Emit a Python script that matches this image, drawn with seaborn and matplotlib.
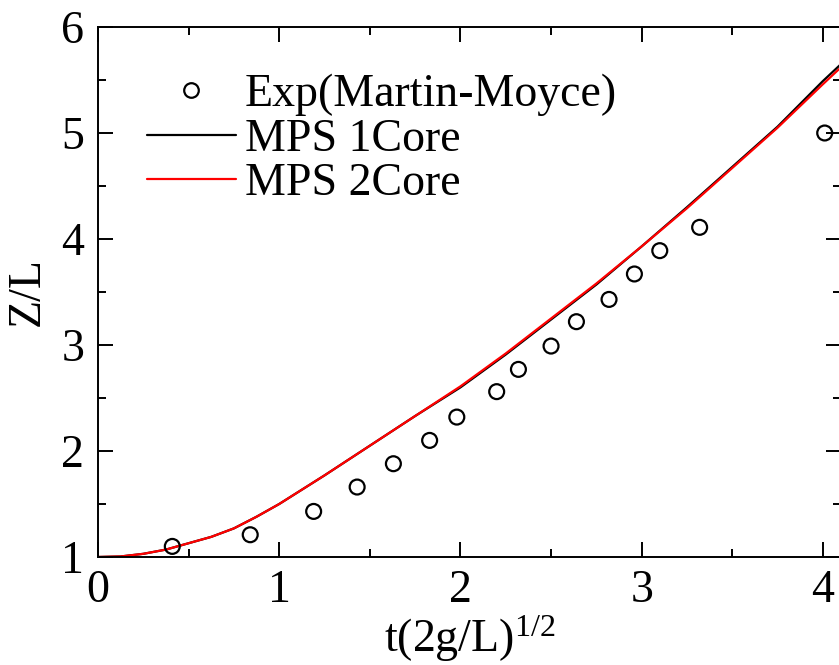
import numpy as np
import pandas as pd
import matplotlib
matplotlib.use("Agg")
import matplotlib.pyplot as plt
import seaborn as sns
from matplotlib.lines import Line2D
from matplotlib.ticker import MultipleLocator

sns.set_theme(style="ticks")
plt.rcParams['font.family'] = ['Liberation Serif', 'DejaVu Serif']
plt.rcParams['mathtext.fontset'] = 'custom'
plt.rcParams['mathtext.rm'] = 'Liberation Serif'
plt.rcParams['mathtext.it'] = 'Liberation Serif:italic'
for k in ['text.color', 'axes.labelcolor', 'xtick.color', 'ytick.color', 'axes.edgecolor']:
    plt.rcParams[k] = 'black'

# Experimental data (Martin-Moyce)
exp_t = [0.41, 0.84, 1.19, 1.43, 1.63, 1.83, 1.98, 2.20, 2.32, 2.50, 2.64, 2.82, 2.96, 3.10, 3.32, 4.01]
exp_z = [1.10, 1.21, 1.43, 1.66, 1.88, 2.10, 2.32, 2.56, 2.77, 2.99, 3.22, 3.43, 3.67, 3.89, 4.11, 5.00]

# MPS 1 core
mps1_t = [0.0, 0.125, 0.25, 0.375, 0.5, 0.625, 0.75, 0.875, 1.0, 1.25, 1.5, 1.75, 2.0, 2.25, 2.5,
          2.75, 3.0, 3.25, 3.5, 3.75, 4.0, 4.1]
mps1_z = [1.00, 1.005, 1.03, 1.07, 1.13, 1.19, 1.27, 1.38, 1.50, 1.77, 2.05, 2.33, 2.60, 2.91, 3.24,
          3.57, 3.93, 4.30, 4.68, 5.06, 5.49, 5.65]

# MPS 2 core
mps2_t = [0.0, 0.125, 0.25, 0.375, 0.5, 0.625, 0.75, 0.875, 1.0, 1.25, 1.5, 1.75, 2.0, 2.25, 2.5,
          2.75, 3.0, 3.25, 3.5, 3.75, 4.0, 4.1]
mps2_z = [1.00, 1.005, 1.03, 1.07, 1.13, 1.19, 1.27, 1.38, 1.50, 1.77, 2.05, 2.33, 2.61, 2.92, 3.25,
          3.58, 3.93, 4.29, 4.67, 5.05, 5.46, 5.62]

fig = plt.figure(figsize=(8.39, 6.65), dpi=100)
ax = fig.add_axes([98/839, (665-557)/665, 743/839, 530/665])

df1 = pd.DataFrame({"t": mps1_t, "z": mps1_z})
df2 = pd.DataFrame({"t": mps2_t, "z": mps2_z})
dfe = pd.DataFrame({"t": exp_t, "z": exp_z})

sns.lineplot(data=df1, x="t", y="z", ax=ax, color="black", linewidth=1.6)
sns.lineplot(data=df2, x="t", y="z", ax=ax, color="red", linewidth=1.6)
sns.scatterplot(data=dfe, x="t", y="z", ax=ax, marker="o", s=115, facecolors="none",
                edgecolor="black", linewidth=1.6, zorder=5, clip_on=False)

FS = 33
ax.set_xlim(0, 4.1)
ax.set_ylim(1, 6)
ax.xaxis.set_major_locator(MultipleLocator(1))
ax.xaxis.set_minor_locator(MultipleLocator(0.5))
ax.yaxis.set_major_locator(MultipleLocator(1))
ax.yaxis.set_minor_locator(MultipleLocator(0.5))
ax.tick_params(which="both", direction="in", top=True, right=True, width=1.4, color="black",
               labelsize=FS)
ax.tick_params(axis="x", which="major", pad=9)
ax.tick_params(axis="y", which="major", pad=10)
ax.tick_params(which="major", length=11)
ax.tick_params(which="minor", length=5.5)
for s in ax.spines.values():
    s.set_linewidth(1.4)
    s.set_color("black")

ax.set_xlabel(r"t(2g/L)$^{\mathrm{1/2}}$", fontsize=FS, labelpad=1)
ax.set_ylabel("Z/L", fontsize=FS, labelpad=9)

handles = [
    Line2D([], [], linestyle="none", marker="o", markersize=10.5, markerfacecolor="none",
           markeredgecolor="black", markeredgewidth=1.6),
    Line2D([], [], color="black", linewidth=1.6),
    Line2D([], [], color="red", linewidth=1.6),
]
labels = ["Exp(Martin-Moyce)", "MPS 1Core", "MPS 2Core"]
ax.legend(handles, labels, loc="upper left", bbox_to_anchor=(0.053, 0.93), frameon=False,
          fontsize=FS, handlelength=1.96, handletextpad=0.18, labelspacing=0.05,
          borderpad=0.2, borderaxespad=0)

fig.savefig("out.png", dpi=100)
